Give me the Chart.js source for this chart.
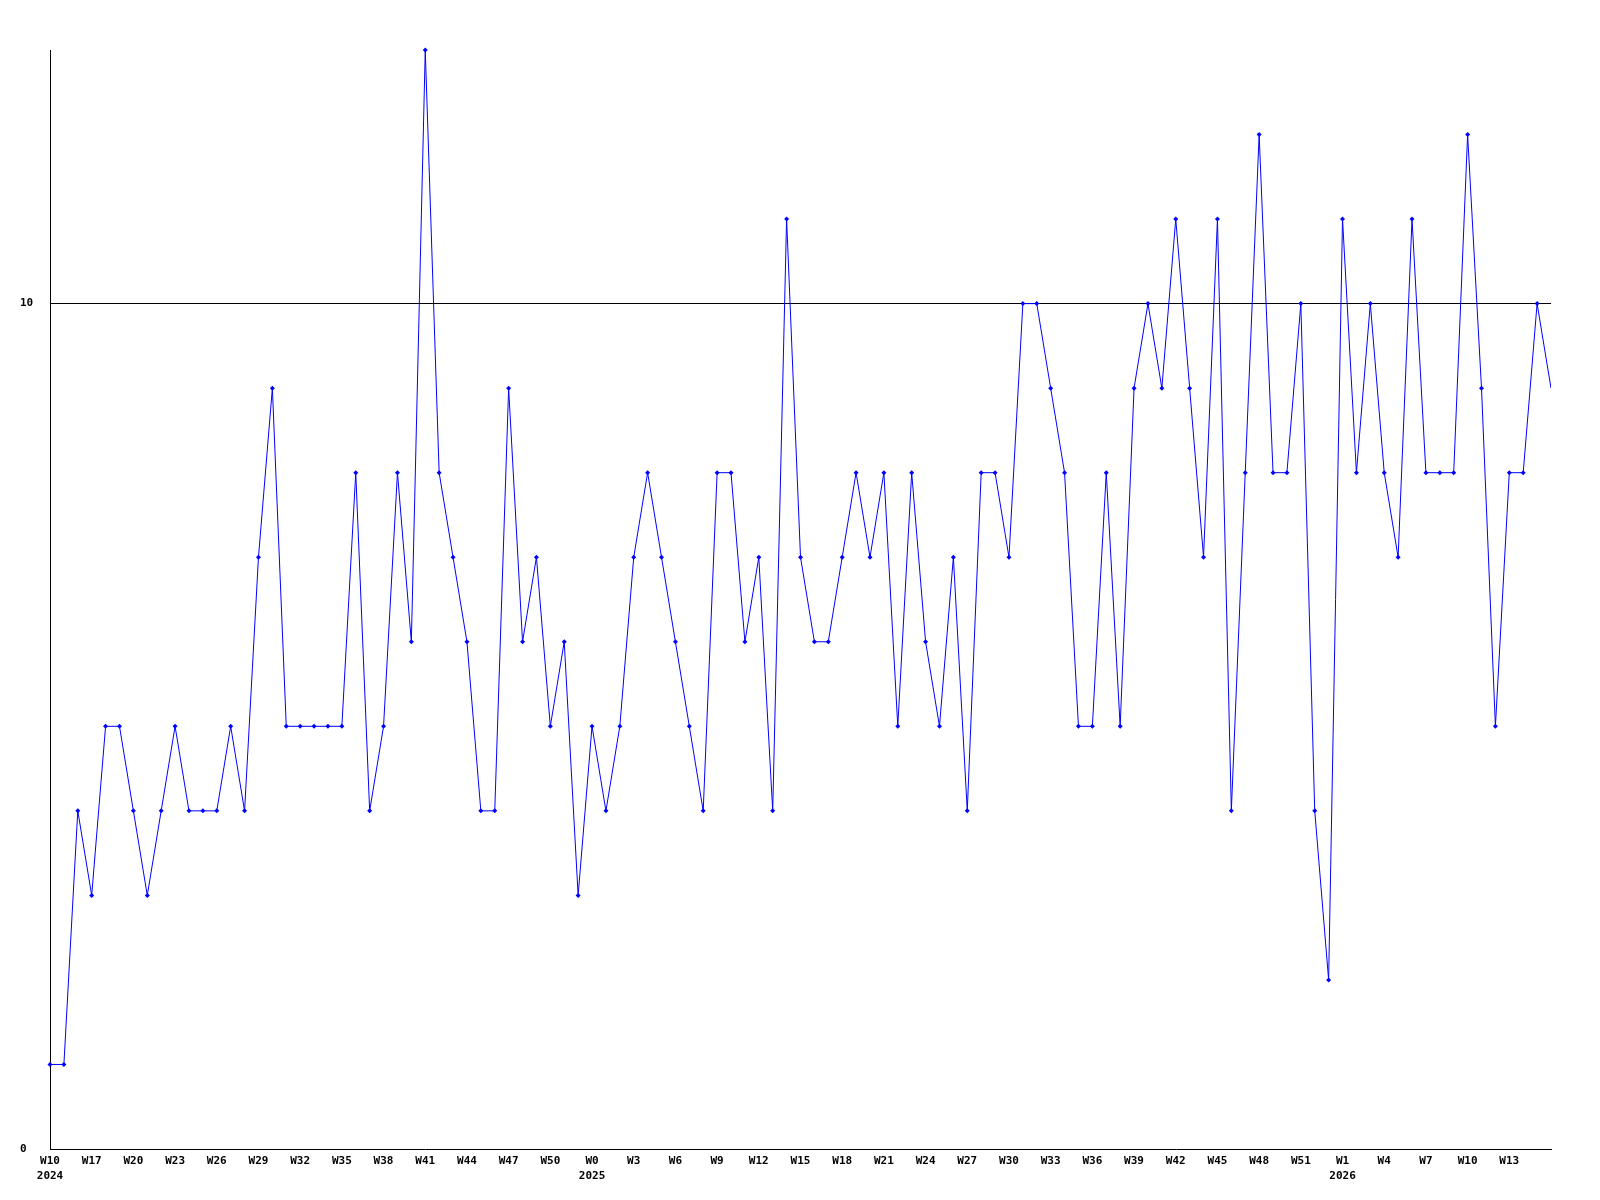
<!DOCTYPE html>
<html>
<head>
<meta charset="utf-8">
<script src="https://cdn.jsdelivr.net/npm/chart.js@4.4.1/dist/chart.umd.min.js"></script>
<style>
  body { margin: 0; background: #fff; }
  #wrap { width: 1600px; height: 1200px; }
</style>
</head>
<body>
<div id="wrap"><canvas id="weekChart"></canvas></div>
<script>
// semanas (rótulos do eixo x) por ano
const weeks2024 = ['W10', 'W15', 'W16', 'W17', 'W18', 'W19', 'W20', 'W21', 'W22', 'W23', 'W24', 'W25', 'W26', 'W27', 'W28',
    'W29', 'W30', 'W31', 'W32', 'W33', 'W34', 'W35', 'W36', 'W37', 'W38', 'W39', 'W40', 'W41', 'W42', 'W43', 'W44',
    'W45', 'W46', 'W47', 'W48', 'W49', 'W50', 'W51', 'W52'];
const weeks2025 = ['W0', 'W1', 'W2', 'W3', 'W4', 'W5', 'W6', 'W7', 'W8', 'W9', 'W10', 'W11', 'W12', 'W13', 'W14', 'W15',
    'W16', 'W17', 'W18', 'W19', 'W20', 'W21', 'W22', 'W23', 'W24', 'W25', 'W26', 'W27', 'W28', 'W29', 'W30', 'W31',
    'W32', 'W33', 'W34', 'W35', 'W36', 'W37', 'W38', 'W39', 'W40', 'W41', 'W42', 'W43', 'W44', 'W45', 'W46', 'W47',
    'W48', 'W49', 'W50', 'W51', 'W52'];
const weeks2026 = ['W0', 'W1', 'W2', 'W3', 'W4', 'W5', 'W6', 'W7', 'W8', 'W9', 'W10', 'W11', 'W12', 'W13', 'W14', 'W15', 'W16'];

// valores semanais
const values2024 = [1, 1, 4, 3, 5, 5, 4, 3, 4, 5, 4, 4, 4, 5, 4, 7, 9, 5, 5, 5, 5, 5, 8, 4, 5, 8, 6, 13, 8, 7, 6,
    4, 4, 9, 6, 7, 5, 6, 3];
const values2025 = [5, 4, 5, 7, 8, 7, 6, 5, 4, 8, 8, 6, 7, 4, 11, 7, 6, 6, 7, 8, 7, 8, 5, 8, 6, 5, 7, 4, 8, 8, 7,
    10, 10, 9, 8, 5, 5, 8, 5, 9, 10, 9, 11, 9, 7, 11, 4, 8, 12, 8, 8, 10, 4];
const values2026 = [2, 11, 8, 10, 8, 7, 11, 8, 8, 8, 12, 9, 5, 8, 8, 10, 9];

// ticks do eixo y
const yTickValues = [0, 10];
const yMax = 13;

const weeks = [...weeks2024, ...weeks2025, ...weeks2026];
const years = [
    ...weeks2024.map(() => '2024'),
    ...weeks2025.map(() => '2025'),
    ...weeks2026.map(() => '2026')
];
const values = [...values2024, ...values2025, ...values2026];

const tickFont = { family: "'DejaVu Sans Mono', monospace", size: 11, weight: 'bold', lineHeight: 1.36 };

function weekLabel(index) {
    // um rótulo a cada 3 semanas, o último ponto fica sem rótulo
    if (index % 3 !== 0 || index === weeks.length - 1) return null;
    // primeiro rótulo visível de cada ano leva o ano embaixo
    let firstOfYear = true;
    for (let j = index - 3; j >= 0; j -= 3) {
        if (years[j] === years[index]) { firstOfYear = false; break; }
    }
    return firstOfYear ? [weeks[index], years[index]] : weeks[index];
}

const ctx = document.getElementById('weekChart').getContext('2d');
window.weekChartInstance = new Chart(ctx, {
    type: 'line',
    data: {
        labels: weeks,
        datasets: [{
            data: values,
            borderColor: '#0000ff',
            backgroundColor: '#0000ff',
            borderWidth: 1,
            pointStyle: 'rectRot',
            pointRadius: c => (c.dataIndex === values.length - 1 ? 0 : 2.5),
            pointBorderWidth: 0,
            pointBackgroundColor: '#0000ff',
            tension: 0,
            fill: false,
            clip: { left: 5, top: 6, right: 0, bottom: 5 }
        }]
    },
    options: {
        responsive: true,
        maintainAspectRatio: false,
        animation: false,
        layout: { padding: { left: 20, top: 50, right: 49, bottom: 0 } },
        plugins: {
            legend: { display: false },
            tooltip: { enabled: false }
        },
        scales: {
            x: {
                offset: false,
                grid: { display: false, drawTicks: false },
                border: { display: true, color: '#000', width: 1 },
                ticks: {
                    autoSkip: false,
                    maxRotation: 0,
                    minRotation: 0,
                    padding: 5,
                    color: '#000',
                    font: tickFont,
                    callback: function(value, index) { return weekLabel(index); }
                },
                afterFit: function(scale) { scale.height = 51; }
            },
            y: {
                min: 0,
                max: yMax,
                afterBuildTicks: function(scale) {
                    scale.ticks = yTickValues.map(v => ({ value: v }));
                },
                grid: {
                    drawTicks: false,
                    lineWidth: 1,
                    color: c => (c.tick && c.tick.value === 10 ? '#000' : 'rgba(0,0,0,0)')
                },
                border: { display: true, color: '#000', width: 1 },
                ticks: {
                    crossAlign: 'far',
                    padding: 0,
                    color: '#000',
                    font: tickFont
                },
                afterFit: function(scale) { scale.width = 30; }
            }
        }
    }
});
</script>
</body>
</html>
